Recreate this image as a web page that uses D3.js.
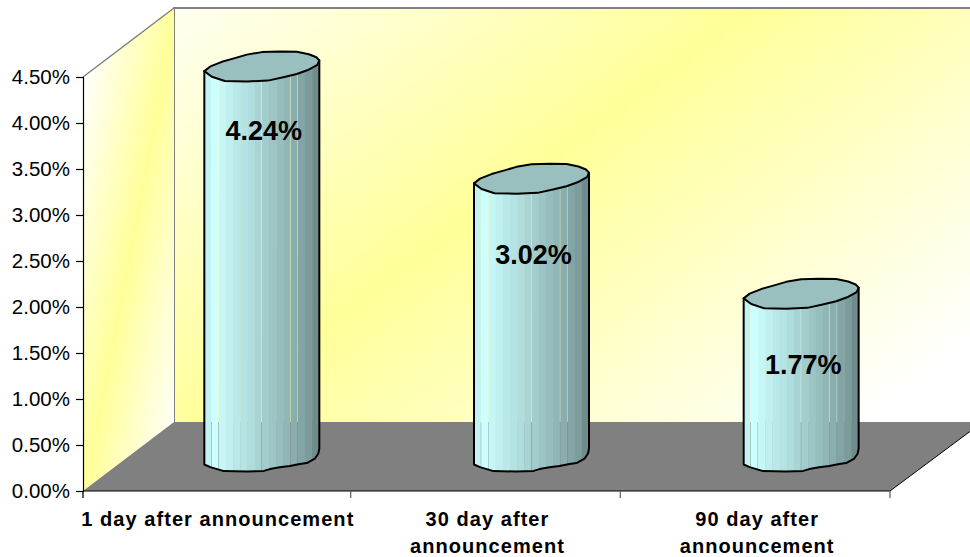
<!DOCTYPE html>
<html>
<head>
<meta charset="utf-8">
<script src="https://cdnjs.cloudflare.com/ajax/libs/d3/7.8.5/d3.min.js"></script>
<style>
html,body{margin:0;padding:0;background:#fff;}
svg{display:block;font-family:"Liberation Sans",Arial,sans-serif;}
</style>
</head>
<body>
<svg id="chart" width="970" height="557"></svg>
<script>
// Abnormal return after announcement, drawn as 3-D cylinders
const categories = [["1 day after announcement"], ["30 day after", "announcement"], ["90 day after", "announcement"]];
const values = [4.24, 3.02, 1.77];
const valueLabels = ["4.24%", "3.02%", "1.77%"];
const tickValues = [0, 0.5, 1, 1.5, 2, 2.5, 3, 3.5, 4, 4.5];

// Facet shades of a cylinder body, left to right
const facetShades = ["#c4f2f2","#ccffff","#c6f7f7","#bfefef","#b9e8e8","#b5e3e3","#afdcdc","#aad4d4","#a3cccc","#9dc5c5","#97bebe","#91b6b6","#8aaeae","#83a5a5","#7c9c9c","#6f8c8c"];
const seamFacets = [0, 1, 7, 11, 12];

// Slightly lumpy cap and base profiles, in pixels around the cylinder axis
const capProfile = [[-57.5,4.7],[-51.5,0],[-40,-4.6],[-27,-8.3],[-15,-11.8],[0,-14.3],[18,-15],[35,-14.6],[47,-12.2],[54.5,-9.2],[57.5,-6],[55.5,-1.6],[46,3.6],[35,7.6],[21.5,10.8],[6,14.2],[-15,15],[-37,14.6],[-50,10.4]];
const baseProfile = [[57.5,-8],[56.5,-3],[53,2.2],[45,6.6],[38,7.4],[28,9.4],[18,10.8],[8,12.6],[2,14.4],[-15,15],[-38,14.6],[-51.5,10.6],[-57.5,8]];
const labelShift = [1, 12, 7];

const svg = d3.select("#chart");
const defs = svg.append("defs");

const frame = {left: 83, right: 890, base: 491, top: 77, dx: 91, dy: 69};

const y = d3.scaleLinear().domain([0, 4.5]).range([frame.base, frame.top]);
const x = d3.scaleBand().domain(d3.range(categories.length)).range([81, frame.right]);

// Wall gradients
function wallGradient(id, x1, y1, x2, y2, stops) {
  const g = defs.append("linearGradient").attr("id", id).attr("gradientUnits", "userSpaceOnUse")
    .attr("x1", x1).attr("y1", y1).attr("x2", x2).attr("y2", y2);
  stops.forEach(s => g.append("stop").attr("offset", s[0]).attr("stop-color", s[1]));
}
wallGradient("backWall", 235, -105, 715, 535, [[0, "#ffffff"], [0.5, "#ffff99"], [1, "#ffffff"]]);
wallGradient("sideWall", 49, 250, 207, 280, [[0, "#ffffff"], [0.5, "#ffff99"], [1, "#ffffff"]]);

const poly = pts => "M" + pts.map(p => p.join(",")).join("L") + "Z";
const backY = y(4.5) - frame.dy;
const floorY = frame.base - frame.dy;

// Back wall
svg.append("path")
  .attr("d", poly([[frame.left + frame.dx, backY], [980, backY], [980, floorY], [frame.left + frame.dx, floorY]]))
  .attr("fill", "url(#backWall)");
svg.append("path")
  .attr("d", `M${frame.left + frame.dx},${floorY}V${backY}H980`)
  .attr("fill", "none").attr("stroke", "#808080").attr("stroke-width", 2);

// Side wall
svg.append("path")
  .attr("d", poly([[frame.left, frame.top], [frame.left + frame.dx, backY], [frame.left + frame.dx, floorY], [frame.left, frame.base]]))
  .attr("fill", "url(#sideWall)");
svg.append("path")
  .attr("d", `M${frame.left},${frame.top}L${frame.left + frame.dx},${backY}`)
  .attr("fill", "none").attr("stroke", "#808080").attr("stroke-width", 1.5);

// Floor
svg.append("path")
  .attr("d", poly([[frame.left, frame.base], [frame.left + frame.dx, floorY], [980, floorY], [980, 424], [frame.right, frame.base]]))
  .attr("fill", "#808080");
svg.append("path")
  .attr("d", `M${frame.right},${frame.base}L980,424`)
  .attr("fill", "none").attr("stroke", "#000").attr("stroke-width", 1);

// Value axis
const yAxis = d3.axisLeft(y).tickValues(tickValues).tickFormat(d => d.toFixed(2) + "%").tickSize(7).tickPadding(6);
const yG = svg.append("g").attr("transform", `translate(${frame.left},0)`).call(yAxis);
yG.selectAll("text").attr("font-size", 20.5).attr("font-family", "Liberation Sans").attr("fill", "#000");
yG.selectAll("line,path").attr("stroke", "#000").attr("stroke-width", 1.2);

// Category axis
svg.append("line").attr("x1", frame.left).attr("x2", frame.right).attr("y1", frame.base).attr("y2", frame.base)
  .attr("stroke", "#000").attr("stroke-width", 1.2);
d3.range(categories.length + 1).forEach(i => {
  const tx = Math.max(frame.left, x.range()[0] + i * x.step());
  svg.append("line").attr("x1", tx).attr("x2", tx).attr("y1", frame.base).attr("y2", frame.base + 7)
    .attr("stroke", i === 0 ? "#000" : "#666").attr("stroke-width", 1.3);
});
categories.forEach((lines, i) => {
  lines.forEach((t, j) => {
    svg.append("text")
      .attr("x", x(i) + x.bandwidth() / 2 + 2)
      .attr("y", 526 + j * 26.5)
      .attr("text-anchor", "middle")
      .attr("font-size", 20).attr("font-weight", "bold").attr("letter-spacing", 1.05)
      .text(t);
  });
});

const closed = d3.line().curve(d3.curveLinearClosed);
const open = d3.line().curve(d3.curveLinear);

values.forEach((v, i) => {
  const cx = x(i) + x.bandwidth() / 2 + frame.dx / 2 + 0.5;
  const baseCy = y(0) - frame.dy / 2;
  const topCy = baseCy - (y(0) - y(v));
  const g = svg.append("g");
  const clipId = "body" + i;
  const left = capProfile[0][0], right = capProfile[10][0];
  const baseEdge = open(baseProfile.map(p => [cx + p[0], baseCy + p[1]]));
  const outline = `M${cx + left},${topCy + capProfile[0][1]}L${cx + right},${topCy + capProfile[10][1]}L` + baseEdge.slice(1) + "Z";
  defs.append("clipPath").attr("id", clipId).append("path").attr("d", outline);

  // Body facets
  const w = (right - left) / facetShades.length;
  facetShades.forEach((c, k) => {
    g.append("rect").attr("x", cx + left + k * w).attr("y", topCy - 20)
      .attr("width", w + (seamFacets.includes(k) ? -0.35 : 0.4)).attr("height", baseCy - topCy + 40)
      .attr("fill", c).attr("clip-path", `url(#${clipId})`);
  });
  g.append("path").attr("d", outline).attr("fill", "none").attr("stroke", "#000").attr("stroke-width", 2).attr("stroke-linejoin", "round");

  // Top cap
  g.append("path").attr("d", closed(capProfile.map(p => [cx + p[0], topCy + p[1]])))
    .attr("fill", "#99bfbf").attr("stroke", "#000").attr("stroke-width", 2).attr("stroke-linejoin", "round");

  // Value label
  svg.append("text").attr("x", cx + 2).attr("y", topCy + 73 + labelShift[i]).attr("text-anchor", "middle")
    .attr("font-size", 27).attr("font-weight", "bold").attr("fill", "#000").text(valueLabels[i]);
});
</script>
</body>
</html>
